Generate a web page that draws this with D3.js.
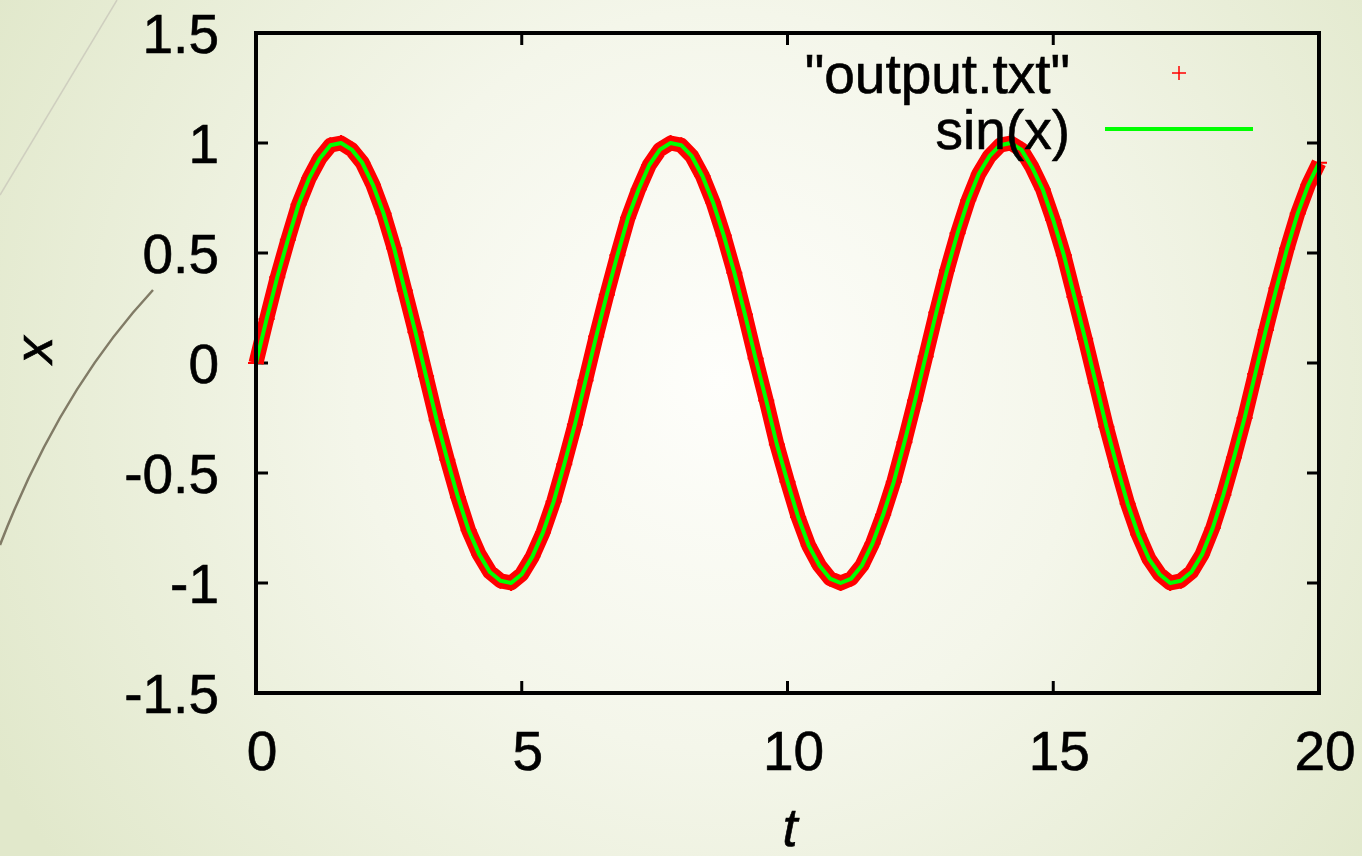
<!DOCTYPE html>
<html>
<head>
<meta charset="utf-8">
<script src="https://cdn.jsdelivr.net/npm/d3@7"></script>
<style>
  body { margin: 0; }
  svg text { font-family: "Liberation Sans", Arial, sans-serif; fill: #000; stroke: #000; stroke-width: 0.6px; }
</style>
</head>
<body>
<svg width="1362" height="856"></svg>
<script>
const width = 1362;
const height = 856;

// samples of t (step 0.2) and x
const tValues = [
  0, 0.2, 0.4, 0.6, 0.8, 1, 1.2, 1.4, 1.6, 1.8, 2, 2.2, 2.4, 2.6, 2.8, 3, 3.2, 3.4, 3.6, 3.8,
  4, 4.2, 4.4, 4.6, 4.8, 5, 5.2, 5.4, 5.6, 5.8, 6, 6.2, 6.4, 6.6, 6.8, 7, 7.2, 7.4, 7.6, 7.8,
  8, 8.2, 8.4, 8.6, 8.8, 9, 9.2, 9.4, 9.6, 9.8, 10, 10.2, 10.4, 10.6, 10.8, 11, 11.2, 11.4, 11.6, 11.8,
  12, 12.2, 12.4, 12.6, 12.8, 13, 13.2, 13.4, 13.6, 13.8, 14, 14.2, 14.4, 14.6, 14.8, 15, 15.2, 15.4, 15.6, 15.8,
  16, 16.2, 16.4, 16.6, 16.8, 17, 17.2, 17.4, 17.6, 17.8, 18, 18.2, 18.4, 18.6, 18.8, 19, 19.2, 19.4, 19.6, 19.8, 20
];
const outputX = [
  0.00, 0.20, 0.39, 0.56, 0.72, 0.84, 0.93, 0.99, 1.00, 0.97, 0.91, 0.81, 0.68, 0.52, 0.33, 0.14, -0.06, -0.26, -0.44, -0.61,
  -0.76, -0.87, -0.95, -0.99, -1.00, -0.96, -0.88, -0.77, -0.63, -0.46, -0.28, -0.08, 0.12, 0.31, 0.49, 0.66, 0.79, 0.90, 0.97, 1.00,
  0.99, 0.94, 0.85, 0.73, 0.58, 0.41, 0.22, 0.02, -0.17, -0.37, -0.54, -0.70, -0.83, -0.92, -0.98, -1.00, -0.98, -0.92, -0.82, -0.69,
  -0.54, -0.36, -0.17, 0.03, 0.23, 0.42, 0.59, 0.74, 0.86, 0.94, 0.99, 1.00, 0.97, 0.89, 0.79, 0.65, 0.49, 0.30, 0.11, -0.09,
  -0.29, -0.47, -0.64, -0.78, -0.89, -0.96, -1.00, -0.99, -0.95, -0.87, -0.75, -0.60, -0.43, -0.25, -0.05, 0.15, 0.34, 0.52, 0.68, 0.81, 0.91
];
// sin(x) curve sampled at the same t
const sinX = outputX;

const xTicks = [0, 5, 10, 15, 20];
const yTicks = [-1.5, -1, -0.5, 0, 0.5, 1, 1.5];
const legendLabels = ['"output.txt"', 'sin(x)'];

const margin = {left: 256, right: 43, top: 33, bottom: 163};

const svg = d3.select('svg');

// background
const defs = svg.append('defs');
const grad = defs.append('radialGradient')
  .attr('id', 'bg')
  .attr('gradientUnits', 'userSpaceOnUse')
  .attr('cx', 720).attr('cy', 380).attr('r', 820);
grad.append('stop').attr('offset', '0%').attr('stop-color', '#fefefb');
grad.append('stop').attr('offset', '45%').attr('stop-color', '#f4f6ea');
grad.append('stop').attr('offset', '100%').attr('stop-color', '#e1e8cb');
svg.append('rect').attr('width', width).attr('height', height).attr('fill', 'url(#bg)');

// decorative arcs on the left
svg.append('path')
  .attr('d', 'M117,0 Q62,92 0,195')
  .attr('fill', 'none').attr('stroke', '#cfcfbf').attr('stroke-width', 1.5);
svg.append('path')
  .attr('d', 'M153,290 Q60,390 0,545')
  .attr('fill', 'none').attr('stroke', '#817b66').attr('stroke-width', 2.5);

const x = d3.scaleLinear().domain([0, 20]).range([margin.left, width - margin.right]);
const y = d3.scaleLinear().domain([-1.5, 1.5]).range([height - margin.bottom, margin.top]);

const data = tValues.map((t, i) => ({t: t, v: outputX[i], s: sinX[i]}));

// ticks (inside, mirrored)
const tickLen = 12;
const ticks = svg.append('g').attr('stroke', '#000').attr('stroke-width', 3);
xTicks.forEach(d => {
  ticks.append('line').attr('x1', x(d)).attr('x2', x(d)).attr('y1', y(-1.5)).attr('y2', y(-1.5) - tickLen);
  ticks.append('line').attr('x1', x(d)).attr('x2', x(d)).attr('y1', y(1.5)).attr('y2', y(1.5) + tickLen);
});
yTicks.forEach(d => {
  ticks.append('line').attr('x1', x(0)).attr('x2', x(0) + tickLen).attr('y1', y(d)).attr('y2', y(d));
  ticks.append('line').attr('x1', x(20)).attr('x2', x(20) - tickLen).attr('y1', y(d)).attr('y2', y(d));
});

// tick labels
svg.append('g').selectAll('text')
  .data(xTicks)
  .join('text')
    .attr('x', d => x(d) + 6)
    .attr('y', y(-1.5) + 77)
    .attr('text-anchor', 'middle')
    .style('font-size', '55px')
    .text(d => d);

svg.append('g').selectAll('text')
  .data(yTicks)
  .join('text')
    .attr('x', 219)
    .attr('y', d => y(d) + 20)
    .attr('text-anchor', 'end')
    .style('font-size', '55px')
    .text(d => d);

// axis titles
svg.append('text')
  .attr('x', 790).attr('y', 846)
  .attr('text-anchor', 'middle')
  .style('font-size', '54px').style('font-style', 'italic')
  .text('t');
svg.append('text')
  .attr('transform', 'translate(33,350) rotate(-90)')
  .attr('text-anchor', 'middle')
  .attr('dominant-baseline', 'central')
  .style('font-size', '54px').style('font-style', 'italic')
  .text('x');

// output.txt: dense "+" points
const plus = 'M-8,0h16M0,-8v16';
svg.append('path')
  .datum(data)
  .attr('fill', 'none')
  .attr('stroke', '#ff0000')
  .attr('stroke-width', 15)
  .attr('stroke-linejoin', 'round')
  .attr('d', d3.line().x(d => x(d.t)).y(d => y(d.v)));
svg.append('g').selectAll('path')
  .data(data)
  .join('path')
    .attr('transform', d => `translate(${x(d.t)},${y(d.v)})`)
    .attr('d', plus)
    .attr('stroke', '#ff0000')
    .attr('stroke-width', 2);

// sin(x)
svg.append('path')
  .datum(data)
  .attr('fill', 'none')
  .attr('stroke', '#00ff00')
  .attr('stroke-width', 4)
  .attr('stroke-linejoin', 'round')
  .attr('d', d3.line().x(d => x(d.t)).y(d => y(d.s)));

// frame
svg.append('rect')
  .attr('x', x(0)).attr('y', y(1.5))
  .attr('width', x(20) - x(0)).attr('height', y(-1.5) - y(1.5))
  .attr('fill', 'none').attr('stroke', '#000').attr('stroke-width', 4);

// legend
const legend = svg.append('g');
legend.append('text')
  .attr('x', 1070).attr('y', 93)
  .attr('text-anchor', 'end').style('font-size', '55px')
  .text(legendLabels[0]);
legend.append('path')
  .attr('transform', 'translate(1179,73)')
  .attr('d', 'M-7,0h14M0,-7v14')
  .attr('stroke', '#ff0000').attr('stroke-width', 1.5);
legend.append('text')
  .attr('x', 1070).attr('y', 149)
  .attr('text-anchor', 'end').style('font-size', '55px')
  .text(legendLabels[1]);
legend.append('line')
  .attr('x1', 1105).attr('x2', 1253).attr('y1', 129).attr('y2', 129)
  .attr('stroke', '#00ff00').attr('stroke-width', 4);
</script>
</body>
</html>
